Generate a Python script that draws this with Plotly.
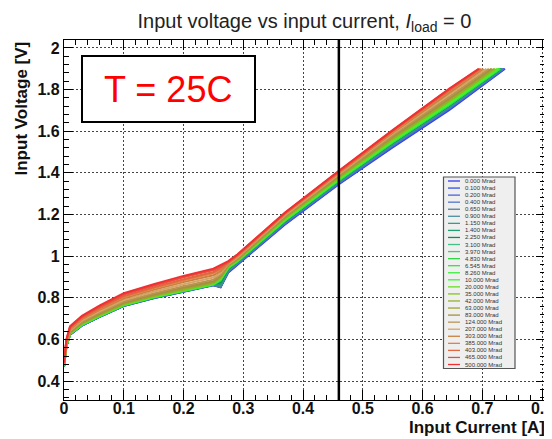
import plotly.graph_objects as go

# ---------------- data ----------------
dose_labels = ["0.000", "0.100", "0.200", "0.400", "0.650", "0.900", "1.150", "1.400",
               "2.250", "3.100", "3.970", "4.830", "6.545", "8.260", "10.000", "20.000",
               "35.000", "42.000", "63.000", "83.000", "124.000", "207.000", "303.000",
               "385.000", "403.000", "465.000", "500.000"]

colors = ["#3a3af0", "#3550e8", "#4a66d8", "#4f78c8", "#4f7f9a", "#4a8f9e", "#2fa184",
          "#21a070", "#0f8f4f", "#3fc285", "#3fd263", "#2fd843", "#30e632", "#3cf03c",
          "#2cff2c", "#66e020", "#84c41c", "#94b02e", "#a2a232", "#a49040", "#b89452",
          "#d6a464", "#c88040", "#e08444", "#e2663e", "#e65040", "#f03030"]

# common current points [A]
current = [0.0, 0.004, 0.01, 0.03, 0.06, 0.10, 0.15, 0.20, 0.25,
           0.262, 0.275, 0.29, 0.37, 0.46, 0.55, 0.645]

# input voltage [V] at the common current points, one row per dose
voltage = [
    [0.468, 0.565, 0.622, 0.666, 0.708, 0.760, 0.798, 0.830, 0.860, 0.850, 0.922, 0.958, 1.152, 1.345, 1.522, 1.702],
    [0.469, 0.566, 0.623, 0.667, 0.709, 0.761, 0.799, 0.831, 0.861, 0.851, 0.924, 0.960, 1.155, 1.348, 1.526, 1.706],
    [0.469, 0.567, 0.623, 0.667, 0.709, 0.761, 0.799, 0.831, 0.861, 0.852, 0.926, 0.962, 1.157, 1.350, 1.529, 1.709],
    [0.470, 0.567, 0.624, 0.668, 0.710, 0.762, 0.800, 0.832, 0.862, 0.853, 0.928, 0.964, 1.160, 1.353, 1.532, 1.712],
    [0.470, 0.568, 0.624, 0.668, 0.710, 0.762, 0.800, 0.832, 0.862, 0.855, 0.930, 0.966, 1.162, 1.355, 1.535, 1.715],
    [0.470, 0.568, 0.625, 0.669, 0.711, 0.763, 0.801, 0.833, 0.863, 0.858, 0.932, 0.968, 1.164, 1.357, 1.538, 1.718],
    [0.471, 0.569, 0.625, 0.669, 0.711, 0.763, 0.801, 0.833, 0.863, 0.862, 0.935, 0.970, 1.166, 1.359, 1.540, 1.720],
    [0.471, 0.569, 0.625, 0.669, 0.711, 0.763, 0.801, 0.833, 0.863, 0.868, 0.938, 0.971, 1.167, 1.361, 1.542, 1.722],
    [0.471, 0.570, 0.626, 0.670, 0.712, 0.764, 0.802, 0.834, 0.864, 0.875, 0.940, 0.972, 1.168, 1.362, 1.544, 1.724],
    [0.471, 0.570, 0.626, 0.670, 0.712, 0.764, 0.802, 0.834, 0.864, 0.882, 0.942, 0.973, 1.170, 1.364, 1.546, 1.726],
    [0.472, 0.570, 0.626, 0.670, 0.712, 0.764, 0.802, 0.834, 0.864, 0.886, 0.944, 0.974, 1.171, 1.365, 1.547, 1.728],
    [0.472, 0.571, 0.627, 0.671, 0.713, 0.765, 0.803, 0.835, 0.865, 0.888, 0.945, 0.975, 1.172, 1.366, 1.549, 1.729],
    [0.472, 0.571, 0.627, 0.671, 0.713, 0.765, 0.803, 0.835, 0.865, 0.889, 0.946, 0.976, 1.173, 1.367, 1.550, 1.731],
    [0.472, 0.571, 0.627, 0.671, 0.713, 0.765, 0.803, 0.836, 0.866, 0.890, 0.947, 0.977, 1.174, 1.368, 1.551, 1.732],
    [0.473, 0.572, 0.628, 0.672, 0.714, 0.766, 0.804, 0.836, 0.866, 0.891, 0.948, 0.978, 1.175, 1.370, 1.553, 1.734],
    [0.473, 0.573, 0.629, 0.673, 0.715, 0.767, 0.805, 0.838, 0.868, 0.893, 0.950, 0.979, 1.178, 1.373, 1.557, 1.739],
    [0.474, 0.575, 0.631, 0.676, 0.718, 0.770, 0.808, 0.841, 0.871, 0.896, 0.952, 0.981, 1.182, 1.377, 1.562, 1.745],
    [0.475, 0.576, 0.632, 0.677, 0.719, 0.771, 0.809, 0.842, 0.872, 0.898, 0.953, 0.982, 1.184, 1.379, 1.565, 1.748],
    [0.476, 0.578, 0.634, 0.680, 0.722, 0.774, 0.812, 0.846, 0.876, 0.901, 0.955, 0.984, 1.187, 1.383, 1.570, 1.754],
    [0.477, 0.580, 0.636, 0.682, 0.725, 0.777, 0.815, 0.849, 0.879, 0.904, 0.957, 0.986, 1.190, 1.386, 1.574, 1.758],
    [0.478, 0.582, 0.639, 0.686, 0.730, 0.782, 0.821, 0.856, 0.887, 0.910, 0.960, 0.990, 1.194, 1.390, 1.580, 1.766],
    [0.480, 0.585, 0.643, 0.691, 0.736, 0.789, 0.829, 0.865, 0.897, 0.918, 0.963, 0.994, 1.198, 1.395, 1.587, 1.775],
    [0.482, 0.589, 0.648, 0.697, 0.743, 0.797, 0.838, 0.875, 0.908, 0.928, 0.966, 0.998, 1.202, 1.400, 1.593, 1.786],
    [0.484, 0.592, 0.652, 0.701, 0.748, 0.803, 0.845, 0.883, 0.917, 0.936, 0.968, 1.001, 1.205, 1.403, 1.597, 1.793],
    [0.485, 0.594, 0.655, 0.704, 0.752, 0.808, 0.850, 0.889, 0.924, 0.942, 0.970, 1.003, 1.206, 1.405, 1.600, 1.797],
    [0.487, 0.597, 0.659, 0.709, 0.758, 0.815, 0.858, 0.898, 0.933, 0.950, 0.973, 1.006, 1.208, 1.408, 1.603, 1.802],
    [0.489, 0.600, 0.663, 0.713, 0.763, 0.822, 0.865, 0.905, 0.940, 0.956, 0.976, 1.008, 1.210, 1.410, 1.605, 1.805],
]

# last point of each scan (current at which the sweep stops), voltage at stop
current_end = [0.738, 0.737, 0.736, 0.735, 0.734, 0.733, 0.733, 0.732, 0.731, 0.730,
               0.730, 0.729, 0.729, 0.728, 0.727, 0.725, 0.722, 0.720, 0.717, 0.715,
               0.711, 0.707, 0.702, 0.699, 0.697, 0.695, 0.694]
voltage_end = 1.9

marker_current = 0.46   # vertical reference line [A]

x_ticks = [0, 0.1, 0.2, 0.3, 0.4, 0.5, 0.6, 0.7, 0.8]
y_ticks = [0.4, 0.6, 0.8, 1.0, 1.2, 1.4, 1.6, 1.8, 2.0]

# ---------------- layout constants (screen pixels) ----------------
SCREEN_W, SCREEN_H = 552, 439
OFF = 8                       # default page margin of the html body
W, H = SCREEN_W - OFF, SCREEN_H - OFF
P_LEFT, P_RIGHT, P_TOP, P_BOTTOM = 64, 545, 40, 400   # plot frame on screen
ML, MR, MT, MB = P_LEFT - OFF, SCREEN_W - P_RIGHT, P_TOP - OFF, SCREEN_H - P_BOTTOM
PW, PH = P_RIGHT - P_LEFT, P_BOTTOM - P_TOP
FONT = "Liberation Sans, Arial, Helvetica, sans-serif"


def px(xs):
    return (xs - P_LEFT) / PW


def py(ys):
    return (P_BOTTOM - ys) / PH


fig = go.Figure()
for i, lab in enumerate(dose_labels):
    fig.add_trace(go.Scatter(
        x=current + [current_end[i]],
        y=voltage[i] + [voltage_end],
        mode="lines",
        line=dict(color=colors[i], width=2),
        name=lab + " Mrad",
        showlegend=False,
    ))

shapes = []
annotations = []

# vertical black line
shapes.append(dict(type="line", xref="x", yref="paper", x0=marker_current, x1=marker_current,
                   y0=0, y1=1, line=dict(color="black", width=2.5)))

# T = 25C box
shapes.append(dict(type="rect", xref="paper", yref="paper",
                   x0=px(82), x1=px(255), y0=py(122), y1=py(56),
                   fillcolor="white", line=dict(color="black", width=2)))
annotations.append(dict(xref="paper", yref="paper", x=px(168), y=py(90),
                        text="T = 25C", showarrow=False, xanchor="center", yanchor="middle",
                        font=dict(family=FONT, size=36, color="#ff0000")))

# manual legend
lx0, lx1, ly0, ly1 = 443.5, 515, 177, 368.5
shapes.append(dict(type="rect", xref="paper", yref="paper",
                   x0=px(lx0), x1=px(lx1), y0=py(ly1), y1=py(ly0),
                   fillcolor="#efefef", line=dict(color="#555555", width=1.2)))
step = (364.5 - 181.0) / (len(dose_labels) - 1)
for i, lab in enumerate(dose_labels):
    yy = 181.0 + i * step
    shapes.append(dict(type="line", xref="paper", yref="paper",
                       x0=px(448), x1=px(460), y0=py(yy), y1=py(yy),
                       line=dict(color=colors[i], width=1.3)))
    annotations.append(dict(xref="paper", yref="paper", x=px(462.5), y=py(yy),
                            text=lab + " Mrad", showarrow=False, xanchor="left",
                            yanchor="middle", font=dict(family=FONT, size=6, color="#333333")))

# axis titles
annotations.append(dict(xref="paper", yref="paper", x=px(547), y=py(438.5), xanchor="right",
                        yanchor="bottom", text="Input Current [A]", showarrow=False,
                        font=dict(family=FONT, size=17, color="#111111", weight="bold")))
annotations.append(dict(xref="paper", yref="paper", x=px(9), y=1.0, xanchor="left",
                        yanchor="top", text="Input Voltage [V]", showarrow=False, textangle=-90,
                        font=dict(family=FONT, size=17, color="#111111", weight="bold")))

axis_common = dict(
    showline=True, linecolor="black", linewidth=1.2, mirror="allticks",
    ticks="inside", tickcolor="black", tickwidth=1, automargin=False,
    ticklabeloverflow="allow",
    showgrid=True, gridcolor="#444444", gridwidth=1, griddash="2px,2px",
    zeroline=False,
    tickfont=dict(family=FONT, size=16, color="#111111", weight="bold"),
)

fig.update_layout(
    width=W, height=H,
    margin=dict(l=ML, r=MR, t=MT, b=MB, autoexpand=False),
    paper_bgcolor="white", plot_bgcolor="white",
    title=dict(text="Input voltage vs input current, <i>I</i><sub>load</sub> = 0",
               x=0.5, xref="paper", xanchor="center", y=1 - (21 - OFF) / H, yref="container",
               yanchor="middle", font=dict(family=FONT, size=20, color="#222222")),
    xaxis=dict(range=[0, 0.805], tickvals=x_ticks, ticklen=10,
               ticktext=[("%g" % v) for v in x_ticks], ticklabelstandoff=-6,
               minor=dict(ticks="inside", ticklen=5, dtick=0.02, tickcolor="black", showgrid=False),
               **axis_common),
    yaxis=dict(range=[0.309, 2.038], tickvals=y_ticks, ticklen=9,
               ticktext=[("%g" % v) for v in y_ticks],
               minor=dict(ticks="inside", ticklen=5, dtick=0.04, tickcolor="black", showgrid=False),
               **axis_common),
    shapes=shapes,
    annotations=annotations,
    showlegend=False,
)

fig.write_html("out.html")
